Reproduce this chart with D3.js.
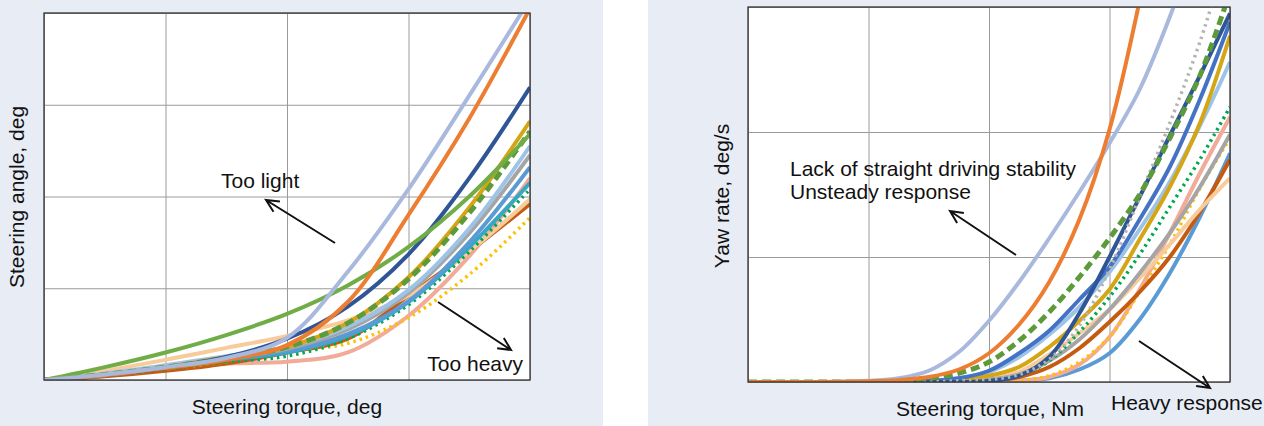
<!DOCTYPE html>
<html>
<head>
<meta charset="utf-8">
<script src="https://cdn.jsdelivr.net/npm/d3@7/dist/d3.min.js"></script>
<style>
  html, body { margin: 0; padding: 0; background: #ffffff; }
  svg { display: block; }
  text { font-family: "Liberation Sans", Arial, sans-serif; fill: #111; }
</style>
</head>
<body>
<svg id="chart" width="1264" height="426"></svg>
<script>
// Torque sample points (grid units along the x axis)
const angleTorque = [0, 0.5, 1, 1.5, 2, 2.5, 3, 3.5, 4];
const yawTorque = [0, 0.25, 0.5, 0.75, 1, 1.25, 1.5, 1.75, 2, 2.25, 2.5, 2.75, 3, 3.25, 3.5, 3.75, 4];
const gridTicksX = [0, 1, 2, 3, 4];
const angleTicksY = [0, 1, 2, 3, 4];
const yawTicksY = [0, 1, 2, 3];

// Steering angle vs steering torque, one array per vehicle
const angleLavender  = [0, 0.06, 0.14, 0.24, 0.46, 1.18, 2.08, 3.10, 4.15];
const angleOrange    = [0, 0.05, 0.13, 0.22, 0.38, 0.85, 1.80, 2.85, 4.05];
const angleNavy      = [0, 0.05, 0.13, 0.25, 0.45, 0.80, 1.37, 2.20, 3.19];
const angleGreen     = [0, 0.14, 0.30, 0.49, 0.72, 1.03, 1.45, 2.00, 2.68];
const angleGold      = [0, 0.06, 0.14, 0.25, 0.36, 0.62, 1.12, 1.88, 2.82];
const angleGreenDash = [0, 0.06, 0.14, 0.24, 0.36, 0.62, 1.10, 1.82, 2.71];
const angleSky       = [0, 0.07, 0.16, 0.26, 0.36, 0.58, 0.98, 1.65, 2.55];
const angleGrey      = [0, 0.06, 0.15, 0.24, 0.34, 0.55, 0.95, 1.60, 2.45];
const angleSteel     = [0, 0.06, 0.15, 0.24, 0.32, 0.50, 0.86, 1.50, 2.32];
const angleTeal      = [0, 0.05, 0.13, 0.22, 0.30, 0.48, 0.85, 1.45, 2.15];
const angleGreenDot  = [0, 0.05, 0.12, 0.20, 0.26, 0.45, 0.82, 1.40, 2.08];
const anglePeach     = [0, 0.10, 0.22, 0.35, 0.48, 0.65, 0.92, 1.40, 1.97];
const angleBrown     = [0, 0.04, 0.10, 0.18, 0.30, 0.45, 0.92, 1.40, 1.92];
const angleYellowDot = [0, 0.05, 0.12, 0.20, 0.31, 0.40, 0.68, 1.15, 1.77];
const angleSalmon    = [0, 0.06, 0.13, 0.18, 0.20, 0.30, 0.70, 1.35, 2.20];

// Yaw rate vs steering torque, one array per vehicle
const yawOrange    = [0, 0, 0, 0.002, 0.006, 0.015, 0.04, 0.10, 0.23, 0.46, 0.80, 1.30, 2.02, 3.05, 4.30, 5.70, 7.20];
const yawLavender  = [0, 0, 0, 0.002, 0.01, 0.03, 0.09, 0.24, 0.49, 0.80, 1.15, 1.52, 1.91, 2.34, 2.92, 3.60, 4.40];
const yawGreenDash = [0, 0, 0, 0, 0, 0.01, 0.03, 0.07, 0.16, 0.33, 0.56, 0.84, 1.15, 1.50, 1.95, 2.45, 3.12];
const yawGreyDot   = [0, 0, 0, 0, 0, 0, 0, 0.01, 0.02, 0.06, 0.18, 0.45, 0.90, 1.48, 2.07, 2.72, 3.50];
const yawNavy      = [0, 0, 0, 0, 0, 0, 0, 0, 0.01, 0.05, 0.20, 0.55, 1.00, 1.48, 1.97, 2.45, 2.95];
const yawBlue      = [0, 0, 0, 0, 0, 0, 0.01, 0.03, 0.09, 0.23, 0.41, 0.66, 0.92, 1.30, 1.72, 2.26, 2.88];
const yawGold      = [0, 0, 0, 0, 0, 0, 0, 0.02, 0.05, 0.12, 0.28, 0.49, 0.74, 1.14, 1.56, 2.07, 2.77];
const yawSky       = [0, 0, 0, 0, 0, 0, 0.01, 0.03, 0.08, 0.20, 0.38, 0.60, 0.88, 1.22, 1.60, 2.05, 2.56];
const yawGreenDot  = [0, 0, 0, 0, 0, 0, 0, 0, 0.01, 0.05, 0.17, 0.40, 0.68, 1.02, 1.40, 1.78, 2.20];
const yawGrey      = [0, 0, 0, 0, 0, 0, 0, 0, 0.02, 0.06, 0.17, 0.34, 0.58, 0.87, 1.19, 1.56, 1.98];
const yawPeach     = [0, 0, 0, 0, 0, 0, 0, 0.01, 0.03, 0.08, 0.22, 0.39, 0.58, 0.83, 1.10, 1.38, 1.63];
const yawBrown     = [0, 0, 0, 0, 0, 0, 0, 0, 0.01, 0.04, 0.12, 0.27, 0.48, 0.72, 1.00, 1.36, 1.78];
const yawYellowDot = [0, 0, 0, 0, 0, 0, 0, 0, 0, 0.01, 0.05, 0.16, 0.36, 0.72, 1.10, 1.55, 1.95];
const yawSalmon    = [0, 0, 0, 0, 0, 0, 0, 0, 0, 0.01, 0.04, 0.14, 0.36, 0.74, 1.19, 1.67, 2.12];
const yawSteel     = [0, 0, 0, 0, 0, 0, 0, 0, 0.005, 0.012, 0.03, 0.10, 0.23, 0.50, 0.87, 1.32, 1.83];

// Line styles
const solid = null;
const dotted = "2.5 4";
const dashed = "9 5";

const angleSeries = [
  { v: angleSalmon,    c: "#f2ab98", d: solid },
  { v: angleBrown,     c: "#c55a11", d: solid },
  { v: angleYellowDot, c: "#ffc000", d: dotted },
  { v: anglePeach,     c: "#f8cb9a", d: solid },
  { v: angleGreenDot,  c: "#00a650", d: dotted },
  { v: angleTeal,      c: "#3aa6c6", d: solid },
  { v: angleSteel,     c: "#5b9bd5", d: solid },
  { v: angleGrey,      c: "#a5a5a5", d: solid },
  { v: angleSky,       c: "#9dc3e6", d: solid },
  { v: angleGold,      c: "#d4a514", d: solid },
  { v: angleGreenDash, c: "#5c9a3a", d: dashed },
  { v: angleNavy,      c: "#2f5597", d: solid },
  { v: angleGreen,     c: "#70ad47", d: solid },
  { v: angleOrange,    c: "#ed7d31", d: solid },
  { v: angleLavender,  c: "#a9b9de", d: solid }
];

const yawSeries = [
  { v: yawSteel,     c: "#5b9bd5", d: solid },
  { v: yawSalmon,    c: "#f2ab98", d: solid },
  { v: yawYellowDot, c: "#ffc000", d: dotted },
  { v: yawBrown,     c: "#c55a11", d: solid },
  { v: yawPeach,     c: "#f8cb9a", d: solid },
  { v: yawGrey,      c: "#a5a5a5", d: solid },
  { v: yawGreenDot,  c: "#00a650", d: dotted },
  { v: yawSky,       c: "#9dc3e6", d: solid },
  { v: yawGold,      c: "#d4a514", d: solid },
  { v: yawBlue,      c: "#4472c4", d: solid },
  { v: yawNavy,      c: "#2f5597", d: solid },
  { v: yawGreyDot,   c: "#b4b4b4", d: dotted },
  { v: yawGreenDash, c: "#5c9a3a", d: dashed },
  { v: yawLavender,  c: "#a9b9de", d: solid },
  { v: yawOrange,    c: "#ed7d31", d: solid }
];

const svg = d3.select("#chart");

// Panel backgrounds
svg.append("rect").attr("x", 0).attr("y", 0).attr("width", 603).attr("height", 426).attr("fill", "#e8ecf5");
svg.append("rect").attr("x", 648).attr("y", 0).attr("width", 616).attr("height", 426).attr("fill", "#e8ecf5");

function drawPanel(opts) {
  const { id, left, right, top, bottom, xs, yTicks, series } = opts;
  const x = d3.scaleLinear().domain([0, 4]).range([left, right]);
  const y = d3.scaleLinear().domain([0, d3.max(yTicks)]).range([bottom, top]);
  const g = svg.append("g");

  g.append("rect").attr("x", left).attr("y", top)
    .attr("width", right - left).attr("height", bottom - top).attr("fill", "#fff");

  // Grid lines via the axis generators (no tick labels in this figure)
  const gx = g.append("g").attr("transform", `translate(0,${bottom})`)
    .call(d3.axisBottom(x).tickValues(gridTicksX).tickFormat("").tickSize(-(bottom - top)).tickSizeOuter(0));
  const gy = g.append("g").attr("transform", `translate(${left},0)`)
    .call(d3.axisLeft(y).tickValues(yTicks).tickFormat("").tickSize(-(right - left)).tickSizeOuter(0));
  [gx, gy].forEach(a => {
    a.select(".domain").remove();
    a.selectAll(".tick line").attr("stroke", "#9a9a9a").attr("stroke-width", 1);
  });

  g.append("clipPath").attr("id", id).append("rect")
    .attr("x", left).attr("y", top).attr("width", right - left).attr("height", bottom - top);

  const line = d3.line()
    .x((d, i) => x(xs[i]))
    .y(d => y(d))
    .curve(d3.curveCatmullRom.alpha(0.5));

  g.append("g").attr("clip-path", `url(#${id})`)
    .selectAll("path").data(series).join("path")
    .attr("d", s => line(s.v))
    .attr("fill", "none")
    .attr("stroke", s => s.c)
    .attr("stroke-width", s => s.d === dotted ? 3.5 : (s.d === dashed ? 5 : 4))
    .attr("stroke-dasharray", s => s.d)
    .attr("stroke-linecap", "butt")
    .attr("stroke-linejoin", "round");

  g.append("rect").attr("x", left).attr("y", top)
    .attr("width", right - left).attr("height", bottom - top)
    .attr("fill", "none").attr("stroke", "#333").attr("stroke-width", 1.3);
}

drawPanel({ id: "clipAngle", left: 44, right: 530, top: 13, bottom: 380, xs: angleTorque, yTicks: angleTicksY, series: angleSeries });
drawPanel({ id: "clipYaw", left: 748, right: 1230, top: 7, bottom: 382, xs: yawTorque, yTicks: yawTicksY, series: yawSeries });

// Arrow with an open V head
function arrow(x1, y1, x2, y2) {
  const a = Math.atan2(y2 - y1, x2 - x1);
  const L = 14, w = Math.PI / 7;
  const p = d3.path();
  p.moveTo(x1, y1); p.lineTo(x2, y2);
  p.moveTo(x2 - L * Math.cos(a - w), y2 - L * Math.sin(a - w));
  p.lineTo(x2, y2);
  p.lineTo(x2 - L * Math.cos(a + w), y2 - L * Math.sin(a + w));
  svg.append("path").attr("d", p.toString()).attr("fill", "none")
    .attr("stroke", "#111").attr("stroke-width", 2).attr("stroke-linejoin", "miter");
}
arrow(335, 243, 266, 200);
arrow(438, 302, 511, 350);
arrow(1016, 255, 950, 211);
arrow(1139, 341, 1210, 388);

function label(t, x, y, anchor, rotate) {
  const el = svg.append("text").text(t).attr("font-size", 21).attr("text-anchor", anchor || "start");
  if (rotate) el.attr("transform", `translate(${x},${y}) rotate(-90)`);
  else el.attr("x", x).attr("y", y);
}
label("Steering angle, deg", 24, 197, "middle", true);
label("Steering torque, deg", 287, 414, "middle");
label("Too light", 221, 188);
label("Too heavy", 523, 371, "end");

label("Yaw rate, deg/s", 729, 196, "middle", true);
label("Steering torque, Nm", 990, 416, "middle");
label("Lack of straight driving stability", 790, 176);
label("Unsteady response", 790, 199);
label("Heavy response", 1111, 410);
</script>
</body>
</html>
